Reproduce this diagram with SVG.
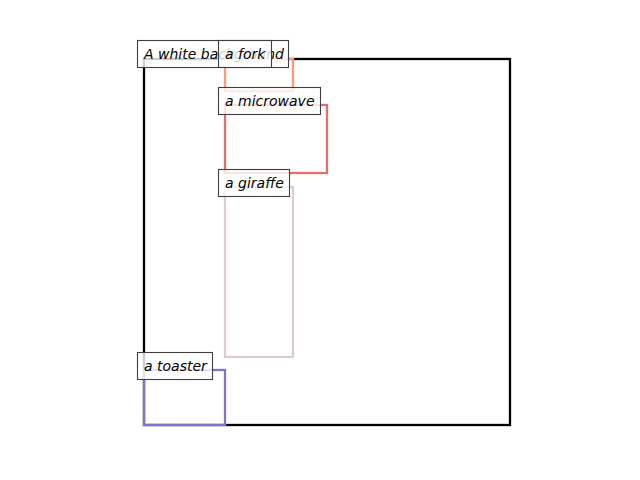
<svg xmlns="http://www.w3.org/2000/svg" width="640" height="480" viewBox="0 0 640 480">
<style>
.box{fill:none;stroke-width:2.3}
.lbl rect{fill:#ffffff;fill-opacity:0.8;stroke:#3f3f3f;stroke-width:1.1}
.lbl text{font-family:"DejaVu Sans",sans-serif;font-style:oblique;font-size:14px;fill:#000}
</style>
<rect width="640" height="480" fill="#ffffff"/>
<g id="boxes">
<rect id="bg" class="box" x="144" y="59" width="366" height="366" stroke="#000000"/>
<rect id="fork" class="box" x="225" y="59" width="68" height="32" stroke="#fc9a7a"/>
<rect id="microwave" class="box" x="225" y="105" width="102" height="68" stroke="#e0716a"/>
<rect id="giraffe" class="box" x="225" y="187" width="68" height="170" stroke="#dccdd0"/>
<rect id="toaster" class="box" x="144" y="370" width="81" height="55" stroke="#8471d0"/>
</g>
<g id="label-bg" class="lbl"><rect x="137.5" y="40.5" width="151" height="27"/><text x="144" y="59">A white background</text></g>
<g id="label-fork" class="lbl"><rect x="218.5" y="40.5" width="53" height="27"/><text x="225" y="59">a fork</text></g>
<g id="label-microwave" class="lbl"><rect x="218.5" y="87.5" width="102" height="27"/><text x="225" y="106">a microwave</text></g>
<g id="label-giraffe" class="lbl"><rect x="218.5" y="169.5" width="71" height="27"/><text x="225" y="188">a giraffe</text></g>
<g id="label-toaster" class="lbl"><rect x="137.5" y="352.5" width="75" height="27"/><text x="144" y="371">a toaster</text></g>
</svg>
